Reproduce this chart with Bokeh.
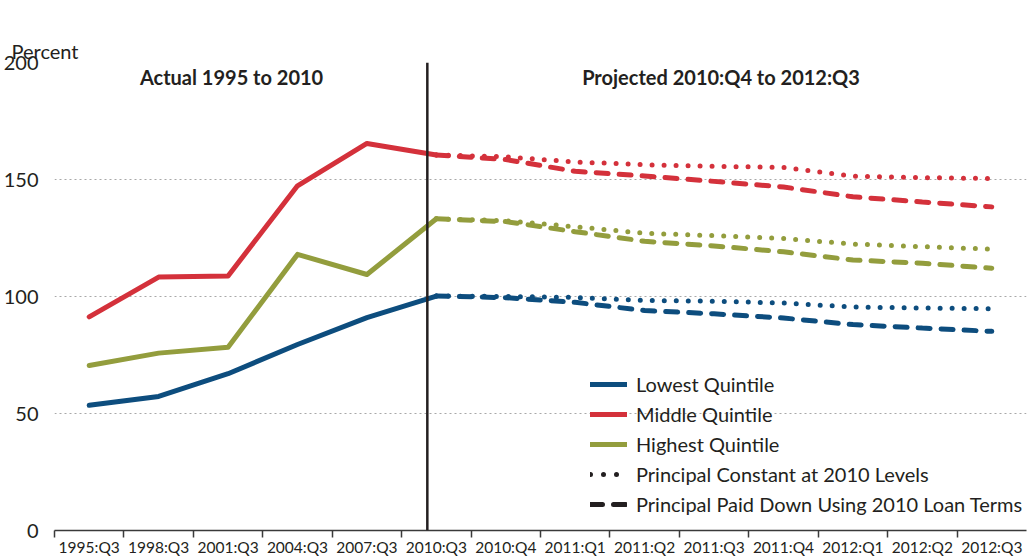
from bokeh.plotting import figure
from bokeh.models import Range1d, FixedTicker, Span, Label, Legend, LegendItem, Title
from bokeh.embed import file_html
from bokeh.resources import INLINE

# ---------------- data ----------------
categories = ["1995:Q3", "1998:Q3", "2001:Q3", "2004:Q3", "2007:Q3", "2010:Q3",
              "2010:Q4", "2011:Q1", "2011:Q2", "2011:Q3", "2011:Q4",
              "2012:Q1", "2012:Q2", "2012:Q3"]

# actual values, 1995:Q3 .. 2010:Q3
lowest_actual = [53.5, 57.3, 67.0, 79.5, 91.0, 100.2]
middle_actual = [91.3, 108.3, 108.8, 147.3, 165.4, 160.5]
highest_actual = [70.5, 75.8, 78.3, 118.0, 109.4, 133.2]

# projected values, 2010:Q3 .. 2012:Q3
lowest_constant = [100.2, 100.0, 99.6, 98.3, 98.0, 97.2, 95.5, 95.1, 94.8]
lowest_paydown = [100.2, 99.5, 97.5, 94.0, 92.6, 90.8, 88.0, 86.5, 85.1]
middle_constant = [160.5, 159.7, 157.5, 156.3, 155.6, 155.2, 151.4, 150.8, 150.4]
middle_paydown = [160.5, 158.5, 153.5, 151.5, 149.2, 146.8, 142.6, 140.4, 138.3]
highest_constant = [133.2, 132.4, 129.8, 127.0, 126.0, 124.8, 122.4, 121.3, 120.2]
highest_paydown = [133.2, 132.0, 127.7, 123.6, 121.6, 119.1, 115.6, 114.2, 112.1]

y_ticks = [0, 50, 100, 150, 200]

# ---------------- styling ----------------
FONT = "Lato"
TXT = "#231f20"
BLUE = "#0d4d7e"
RED = "#d4313b"
GREEN = "#939d3d"
DOT = "0 12"
DASH = "12 11"
LW = 5
NAN = float("nan")

idx_actual = list(range(len(lowest_actual)))
start = len(lowest_actual) - 1
idx_proj = list(range(start, start + len(lowest_constant)))

p = figure(width=1032, height=558, output_backend="svg", toolbar_location=None,
           x_range=Range1d(-0.5, len(categories) - 0.5), y_range=Range1d(0, 200),
           min_border_left=50, min_border_right=6, min_border_top=62, min_border_bottom=0)
p.outline_line_color = None
p.background_fill_color = "white"
p.border_fill_color = "white"

# unit label: the plot title (outermost panel above the frame)
p.title.text = "Percent"
p.title.align = "left"
p.title.offset = -43
p.title.standoff = 0
p.title.text_font = FONT
p.title.text_font_style = "normal"
p.title.text_font_size = "20px"
p.title.text_color = TXT

# invisible spacer title, placed next to the frame, which lifts the unit label
p.add_layout(Title(text="x", text_alpha=0, standoff=2, text_font=FONT,
                   text_font_size="20px"), "above")

# grid
p.xgrid.visible = False
p.ygrid.ticker = FixedTicker(ticks=y_ticks)
p.ygrid.grid_line_color = "#a8a8a8"
p.ygrid.grid_line_dash = "2 3"
p.ygrid.grid_line_width = 1

# x axis
xa = p.xaxis[0]
xa.ticker = FixedTicker(ticks=list(range(len(categories))),
                        minor_ticks=[i - 0.5 for i in range(len(categories))])
xa.major_label_overrides = {i: c for i, c in enumerate(categories)}
xa.major_tick_line_color = None
xa.major_tick_out = 0
xa.major_tick_in = 0
xa.minor_tick_out = 7
xa.minor_tick_in = 0
xa.minor_tick_line_color = "#3a3a3a"
xa.minor_tick_line_width = 1.5
xa.axis_line_color = "#3a3a3a"
xa.axis_line_width = 1.5
xa.major_label_text_font = FONT
xa.major_label_text_font_size = "15.5px"
xa.major_label_text_color = TXT
xa.major_label_standoff = 0

# y axis
ya = p.yaxis[0]
ya.ticker = FixedTicker(ticks=y_ticks)
ya.axis_line_color = None
ya.major_tick_line_color = None
ya.minor_tick_line_color = None
ya.major_label_text_font = FONT
ya.major_label_text_font_size = "20px"
ya.major_label_text_color = TXT
ya.major_label_standoff = 10

# projected lines (dotted then dashed)
for vals, col in [(lowest_constant, BLUE), (middle_constant, RED), (highest_constant, GREEN)]:
    p.line(idx_proj, vals, line_color=col, line_width=LW, line_dash=DOT, line_cap="round")
for vals, col in [(lowest_paydown, BLUE), (middle_paydown, RED), (highest_paydown, GREEN)]:
    p.line(idx_proj, vals, line_color=col, line_width=LW, line_dash=DASH, line_cap="round")

# actual lines
r_low = p.line(idx_actual, lowest_actual, line_color=BLUE, line_width=LW, line_cap="round", line_join="round")
r_mid = p.line(idx_actual, middle_actual, line_color=RED, line_width=LW, line_cap="round", line_join="round")
r_high = p.line(idx_actual, highest_actual, line_color=GREEN, line_width=LW, line_cap="round", line_join="round")

# legend-only renderers (no visible data)
r_dot = p.line([NAN, NAN], [NAN, NAN], line_color=TXT, line_width=LW, line_dash="0 13", line_cap="round")
r_dash = p.line([NAN, NAN], [NAN, NAN], line_color=TXT, line_width=LW, line_dash=DASH, line_cap="round")

# divider between actual and projected
p.add_layout(Span(location=start - 0.13, dimension="height", line_color=TXT, line_width=2.5))

# section headings
p.add_layout(Label(x=2.05, y=194, text="Actual 1995 to 2010", text_font=FONT, text_font_style="bold",
                   text_font_size="20px", text_color=TXT, text_align="center", text_baseline="middle"))
p.add_layout(Label(x=9.1, y=194, text="Projected 2010:Q4 to 2012:Q3", text_font=FONT, text_font_style="bold",
                   text_font_size="20px", text_color=TXT, text_align="center", text_baseline="middle"))

legend = Legend(items=[
    LegendItem(label="Lowest Quintile", renderers=[r_low]),
    LegendItem(label="Middle Quintile", renderers=[r_mid]),
    LegendItem(label="Highest Quintile", renderers=[r_high]),
    LegendItem(label="Principal Constant at 2010 Levels", renderers=[r_dot]),
    LegendItem(label="Principal Paid Down Using 2010 Loan Terms", renderers=[r_dash]),
], location=(536, 11))
legend.glyph_width = 37
legend.glyph_height = 30
legend.label_height = 30
legend.spacing = 0
legend.padding = 0
legend.margin = 0
legend.label_standoff = 9
legend.label_text_font = FONT
legend.label_text_font_size = "20px"
legend.label_text_color = TXT
legend.background_fill_alpha = 0
legend.border_line_color = None
p.add_layout(legend)

open("out.html", "w").write(file_html(p, INLINE))
